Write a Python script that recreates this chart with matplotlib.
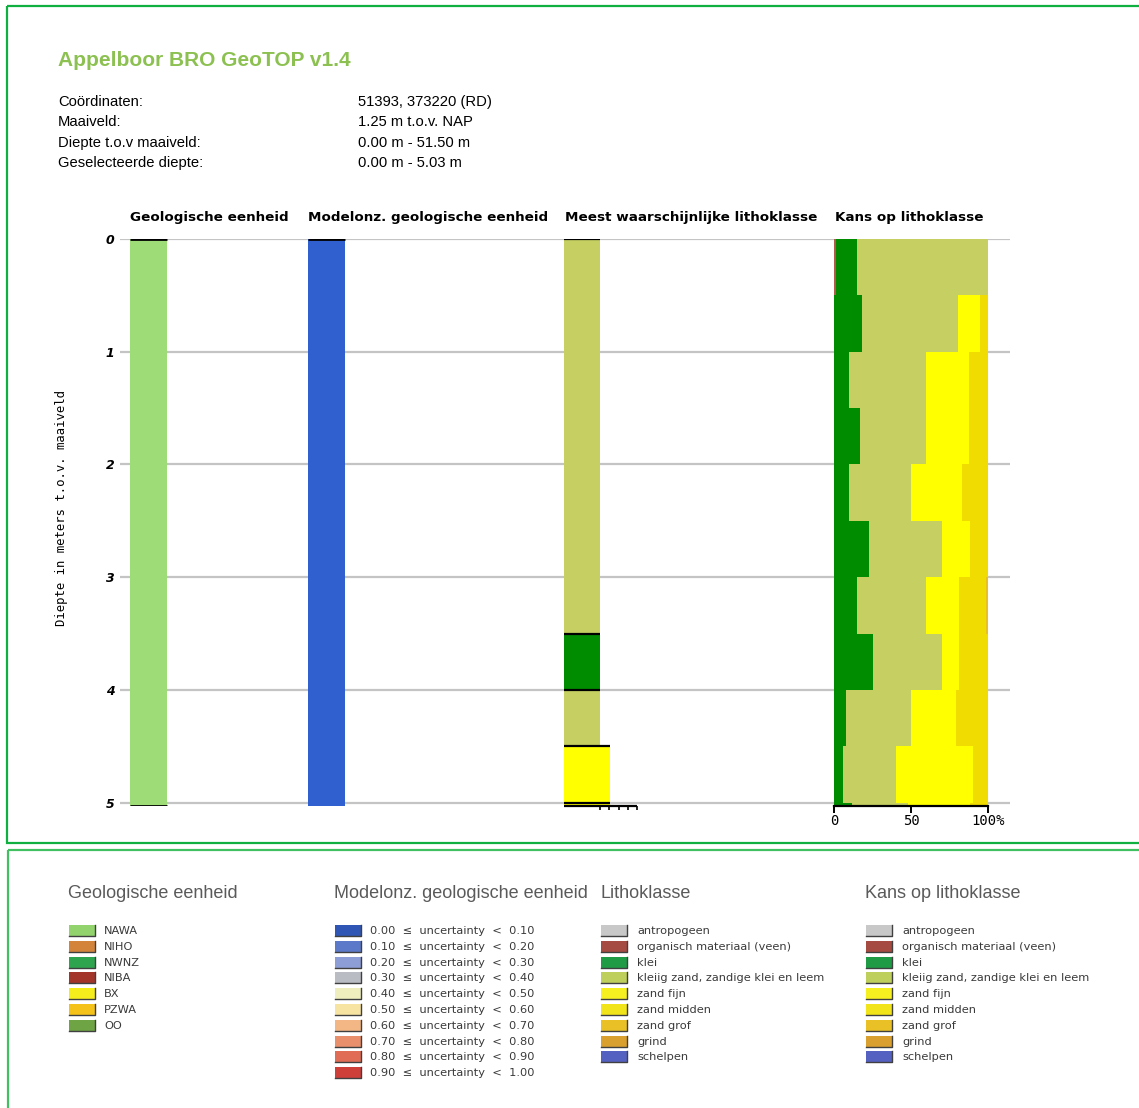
import matplotlib
matplotlib.use('Agg')
import matplotlib.pyplot as plt
from matplotlib.patches import Rectangle

W, H = 1139, 1108

# diepte-as
depth_ticks = [0, 1, 2, 3, 4, 5]
max_depth = 5.03

# geologische eenheid
geo_top = [0.0]
geo_bot = [5.03]
geo_unit = ['NAWA']

# modelonzekerheid
unc_top = [0.0]
unc_bot = [5.03]
unc_value = [0.05]

# meest waarschijnlijke lithoklasse
litho_top = [0.0, 3.5, 4.0, 4.5, 5.0]
litho_bot = [3.5, 4.0, 4.5, 5.0, 5.03]
litho_class = ['kleiig zand, zandige klei en leem', 'klei', 'kleiig zand, zandige klei en leem',
               'zand fijn', 'zand fijn']

# kans op lithoklasse (%), per interval van 0.5 m
kans_top = [0.0, 0.5, 1.0, 1.5, 2.0, 2.5, 3.0, 3.5, 4.0, 4.5, 5.0]
kans_bot = [0.5, 1.0, 1.5, 2.0, 2.5, 3.0, 3.5, 4.0, 4.5, 5.0, 5.03]
kans = {
    'organisch materiaal (veen)': [1, 0, 0, 0, 0, 0, 0, 0, 0, 0, 0],
    'klei': [14, 18.5, 10, 17, 10, 22.5, 15, 25.5, 8, 6, 12],
    'kleiig zand, zandige klei en leem': [85, 62, 50, 43, 40, 47.5, 45, 44.5, 42, 34, 36],
    'zand fijn': [0, 14.5, 27.5, 27.5, 33, 18, 21, 11, 29, 50, 40],
    'zand midden': [0, 5, 12.5, 12.5, 17, 12, 18, 19, 21, 10, 12],
    'zand grof': [0, 0, 0, 0, 0, 0, 1, 0, 0, 0, 0],
}
kans_ticks = [0, 50, 100]
kans_ticklabels = ['0', '50', '100%']

# legenda's
geo_legend = ['NAWA', 'NIHO', 'NWNZ', 'NIBA', 'BX', 'PZWA', 'OO']
geo_legend_colors = ['#92d36e', '#d4843a', '#2fa44f', '#a3342a', '#f5ee1c', '#f5c21a', '#6fa445']
unc_legend = ['0.00', '0.10', '0.20', '0.30', '0.40', '0.50', '0.60', '0.70', '0.80', '0.90', '1.00']
unc_legend_colors = ['#2f56b4', '#5c78c9', '#8d9dd6', '#b9bcc3', '#eeeebe', '#f7e3a2',
                     '#f3b786', '#e98f6c', '#e06c55', '#cf3f3a']
litho_legend = ['antropogeen', 'organisch materiaal (veen)', 'klei', 'kleiig zand, zandige klei en leem',
                'zand fijn', 'zand midden', 'zand grof', 'grind', 'schelpen']
litho_legend_colors = ['#c8c8c8', '#a64b42', '#1f9a45', '#bfcf5c', '#f6f020', '#f2e41a',
                       '#e9c126', '#d9a030', '#5561c0']

# kleuren in de kolommen
geo_colors = {'NAWA': '#9edc78'}
litho_colors = {
    'organisch materiaal (veen)': '#b25a4c',
    'klei': '#008c00',
    'kleiig zand, zandige klei en leem': '#c5cf62',
    'zand fijn': '#ffff00',
    'zand midden': '#f0dc00',
    'zand grof': '#e8c020',
}
litho_width = {'klei': 36, 'kleiig zand, zandige klei en leem': 36, 'zand fijn': 46}


def px_axes(x0, y0, x1, y1):
    return fig.add_axes([x0 / W, 1 - y1 / H, (x1 - x0) / W, (y1 - y0) / H])


fig = plt.figure(figsize=(W / 100, H / 100), dpi=100)

# achtergrond-assen in pixels voor kaders en teksten
bg = fig.add_axes([0, 0, 1, 1])
bg.set_xlim(0, W)
bg.set_ylim(H, 0)
bg.axis('off')

bg.add_patch(Rectangle((7, 6), 1200, 837, fill=False, ec='#10b040', lw=1.6))
bg.add_patch(Rectangle((8, 850), 1200, 400, fill=False, ec='#40c060', lw=1.6))

bg.text(58, 60, 'Appelboor BRO GeoTOP v1.4', fontsize=15, fontweight='bold',
        color='#8cc152', family='Liberation Sans', va='center')
info_labels = ['Coördinaten:', 'Maaiveld:', 'Diepte t.o.v maaiveld:', 'Geselecteerde diepte:']
info_values = ['51393, 373220 (RD)', '1.25 m t.o.v. NAP', '0.00 m - 51.50 m', '0.00 m - 5.03 m']
for i, (lab, val) in enumerate(zip(info_labels, info_values)):
    bg.text(58, 102 + i * 20.3, lab, fontsize=10.6, family='Liberation Sans', va='center')
    bg.text(358, 102 + i * 20.3, val, fontsize=10.6, family='Liberation Sans', va='center')

headers = ['Geologische eenheid', 'Modelonz. geologische eenheid',
           'Meest waarschijnlijke lithoklasse', 'Kans op lithoklasse']
for x, h in zip([130, 308, 565, 835], headers):
    bg.text(x, 217, h, fontsize=9.7, fontweight='bold', family='DejaVu Sans', va='center')

bg.text(62, 508, 'Diepte in meters t.o.v. maaiveld', rotation=90, fontsize=8.8,
        family='DejaVu Sans Mono', va='center', ha='center')

# hoofd-assen: diepte
ax = px_axes(120, 239, 1010, 806)
ax.set_xlim(120, 1010)
ax.set_ylim(max_depth, 0)
ax.patch.set_alpha(0)
for s in ax.spines.values():
    s.set_visible(False)
ax.set_xticks([])
ax.set_yticks(depth_ticks)
ax.set_yticklabels([str(t) for t in depth_ticks], fontweight='bold', style='italic', fontsize=9)
ax.tick_params(axis='y', length=0, pad=4)
ax.hlines(depth_ticks, 120, 1010, color='#c4c4c4', lw=1.6, zorder=0)

# geologische eenheid
for t, b, u in zip(geo_top, geo_bot, geo_unit):
    ax.bar(130, b - t, bottom=t, width=37, align='edge', color=geo_colors[u], zorder=2)
ax.hlines([0, max_depth], 130, 167, color='black', lw=2, zorder=3)

# modelonzekerheid
for t, b, v in zip(unc_top, unc_bot, unc_value):
    ax.bar(308, b - t, bottom=t, width=37, align='edge', color='#3060d0', zorder=2)
ax.hlines([0], 308, 345, color='black', lw=2, zorder=3)

# meest waarschijnlijke lithoklasse
for t, b, c in zip(litho_top, litho_bot, litho_class):
    w = litho_width[c]
    ax.bar(564, b - t, bottom=t, width=w, align='edge', color=litho_colors[c], zorder=2)
    ax.hlines([t], 564, 564 + w, color='black', lw=1.6, zorder=3)
ax.hlines([max_depth], 564, 637, color='black', lw=1.6, zorder=3, clip_on=False)
ax.vlines([600, 609, 619, 628, 637], max_depth, max_depth + 0.035, color='black', lw=1.2, clip_on=False)

# kans op lithoklasse
axk = px_axes(834, 239, 988, 806)
axk.set_xlim(0, 100)
axk.set_ylim(max_depth, 0)
axk.patch.set_alpha(0)
left = [0] * len(kans_top)
heights = [b - t for t, b in zip(kans_top, kans_bot)]
for name, vals in kans.items():
    axk.barh(kans_top, vals, height=heights, left=left, align='edge',
             color=litho_colors[name], lw=0)
    left = [l + v for l, v in zip(left, vals)]
for s in ['top', 'right', 'left']:
    axk.spines[s].set_visible(False)
axk.spines['bottom'].set_linewidth(1.6)
axk.set_yticks([])
axk.set_xticks(kans_ticks)
axk.set_xticklabels(kans_ticklabels, fontsize=10, family='DejaVu Sans Mono')
axk.tick_params(axis='x', length=5, width=1.4, pad=1)

# legenda's
leg_title_kw = dict(fontsize=13, color='#5a5a5a', family='Liberation Sans', va='center')
leg_text_kw = dict(fontsize=8.2, color='#3a3a3a', family='DejaVu Sans', va='center')


def draw_legend(x, title, labels, colors, text_x):
    bg.text(x - 1, 893, title, **leg_title_kw)
    for i, (lab, col) in enumerate(zip(labels, colors)):
        y = 925 + i * 15.8
        bg.add_patch(Rectangle((x, y), 26, 11, color=col, lw=0))
        bg.plot([x, x + 26, x + 26], [y + 11, y + 11, y], color='#404040', lw=1)
        bg.text(text_x, y + 6, lab, **leg_text_kw)


draw_legend(69, 'Geologische eenheid', geo_legend, geo_legend_colors, 104)
unc_labels = [f'{a}  \u2264  uncertainty  <  {b}' for a, b in zip(unc_legend[:-1], unc_legend[1:])]
draw_legend(335, 'Modelonz. geologische eenheid', unc_labels, unc_legend_colors, 370)
draw_legend(601, 'Lithoklasse', litho_legend, litho_legend_colors, 637)
draw_legend(866, 'Kans op lithoklasse', litho_legend, litho_legend_colors, 902)

fig.savefig('out.png', dpi=100)
